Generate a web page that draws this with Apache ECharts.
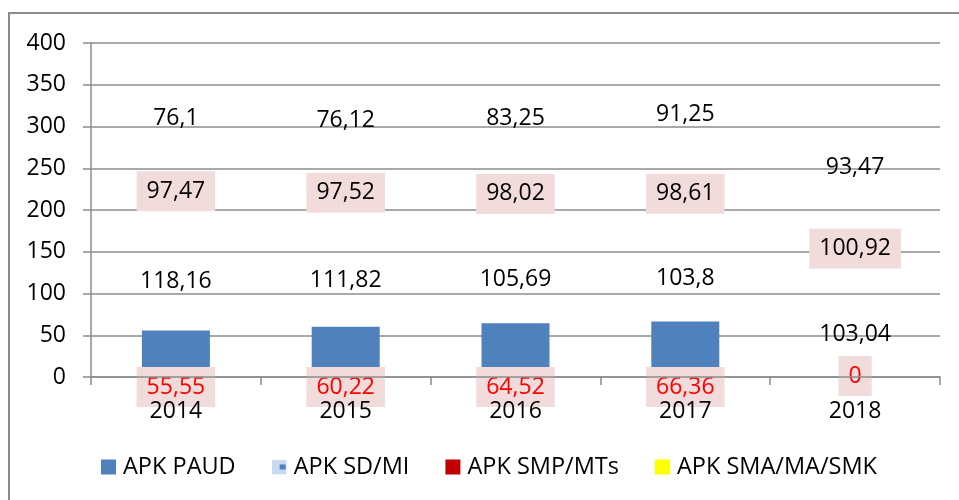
<!DOCTYPE html>
<html>
<head>
<meta charset="utf-8">
<script src="https://cdn.jsdelivr.net/npm/echarts@6/dist/echarts.min.js"></script>
<style>
html,body{margin:0;padding:0;background:#fff;}
#chart{width:959px;height:500px;}
</style>
</head>
<body>
<div id="chart"></div>
<script>
const categories = ['2014', '2015', '2016', '2017', '2018'];
const apkPaud = [55.55, 60.22, 64.52, 66.36, 0];
const apkSd = [118.16, 111.82, 105.69, 103.8, 103.04];
const apkSmp = [97.47, 97.52, 98.02, 98.61, 100.92];
const apkSma = [76.1, 76.12, 83.25, 91.25, 93.47];
const seriesNames = ['APK PAUD', 'APK SD/MI', 'APK SMP/MTs', 'APK SMA/MA/SMK'];
const yTicks = [0, 50, 100, 150, 200, 250, 300, 350, 400];

const FONT = '"Open Sans", "Noto Sans", sans-serif';
const fmt = v => String(v).replace('.', ',');
const pink = '#f2dcdb';

const sdIcon = 'image://data:image/svg+xml;charset=utf-8,' + encodeURIComponent(
  "<svg xmlns='http://www.w3.org/2000/svg' width='15' height='15'><rect width='15' height='15' fill='#c6d9f1'/><rect x='8' y='5' width='6' height='5' fill='#4f81bd'/></svg>");

const chart = echarts.init(document.getElementById('chart'), null, {renderer: 'canvas'});

const baseLabel = {
  show: true,
  fontFamily: FONT,
  fontSize: 23,
  color: '#000',
  formatter: p => fmt(p.value)
};

chart.setOption({
  animation: false,
  backgroundColor: '#fff',
  textStyle: {fontFamily: FONT},
  graphic: [{
    type: 'rect',
    shape: {x: 9, y: 13, width: 980, height: 520},
    style: {fill: 'none', stroke: '#8c8c8c', lineWidth: 2},
    silent: true, z: -10
  }],
  grid: {left: 91, right: 19, top: 43, bottom: 123, containLabel: false},
  legend: {
    left: 101, top: 455, padding: 0,
    itemWidth: 15, itemHeight: 15, itemGap: 36,
    textStyle: {fontFamily: FONT, fontSize: 23.5, color: '#000', padding: [0, 0, 0, 2]},
    data: [
      {name: seriesNames[0], icon: 'rect', itemStyle: {color: '#4f81bd'}},
      {name: seriesNames[1], icon: sdIcon},
      {name: seriesNames[2], icon: 'rect', itemStyle: {color: '#c00000'}},
      {name: seriesNames[3], icon: 'rect', itemStyle: {color: '#ffff00'}}
    ]
  },
  xAxis: {
    type: 'category',
    data: categories,
    boundaryGap: true,
    axisLine: {lineStyle: {color: '#8c8c8c', width: 1.5}},
    axisTick: {show: true, length: 8, lineStyle: {color: '#8c8c8c', width: 1.5}},
    axisLabel: {fontFamily: FONT, fontSize: 23, color: '#000', margin: 23},
    z: 10
  },
  yAxis: {
    type: 'value',
    min: yTicks[0], max: yTicks[yTicks.length - 1], interval: 50,
    axisLine: {show: true, lineStyle: {color: '#8c8c8c', width: 1.5}},
    axisTick: {show: true, length: 8, lineStyle: {color: '#8c8c8c', width: 1.5}},
    axisLabel: {fontFamily: FONT, fontSize: 23, color: '#000', margin: 25},
    splitLine: {lineStyle: {color: '#8c8c8c', width: 1.5}}
  },
  series: [
    {
      name: seriesNames[0], type: 'bar', stack: 'apk', barWidth: 68,
      itemStyle: {color: '#4f81bd'},
      label: Object.assign({}, baseLabel, {
        position: 'insideBottom', color: '#ff0000',
        backgroundColor: pink, padding: [8, 10], lineHeight: 24
      }),
      data: apkPaud.map(v => ({value: v, label: {offset: [0, v === 0 ? 24 : 35]}})),
      z: 3
    },
    {
      name: seriesNames[1], type: 'bar', stack: 'apk', barWidth: 68,
      itemStyle: {color: 'rgba(0,0,0,0)'},
      label: Object.assign({}, baseLabel, {position: 'inside'}),
      data: apkSd
    },
    {
      name: seriesNames[2], type: 'bar', stack: 'apk', barWidth: 68,
      itemStyle: {color: 'rgba(0,0,0,0)'},
      label: Object.assign({}, baseLabel, {
        position: 'inside', backgroundColor: pink, padding: [8, 10], lineHeight: 24
      }),
      data: apkSmp
    },
    {
      name: seriesNames[3], type: 'bar', stack: 'apk', barWidth: 68,
      itemStyle: {color: 'rgba(0,0,0,0)'},
      label: Object.assign({}, baseLabel, {position: 'inside'}),
      data: apkSma
    }
  ]
});
</script>
</body>
</html>
